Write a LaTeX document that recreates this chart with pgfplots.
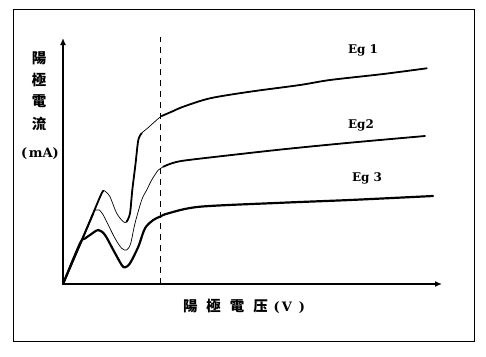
\documentclass[border=0pt]{standalone}
\usepackage{fontspec}
\setmainfont{DejaVu Serif}
\newfontfamily\cjk{Noto Sans CJK TC}
\usepackage{pgfplots}
\pgfplotsset{compat=1.18}
\usetikzlibrary{arrows.meta}

\begin{document}
\begin{tikzpicture}
\begin{axis}[
  x=1bp, y=1bp,
  xmin=0, xmax=379, ymin=0, ymax=246,
  enlargelimits=false,
  axis lines=left,
  axis line style={line width=1.5pt},
  x axis line style={-{Latex[length=7bp,width=6bp]}},
  y axis line style={-{Latex[length=7bp,width=6bp]}},
  xtick=\empty, ytick=\empty,
  clip=false,
]
% Eg1
\addplot[black, line width=0.7pt, smooth, tension=0.5, line cap=round, line join=round] coordinates {
(0,0)(20,46.5)(37,87)(40.3,93.3)(43,92)(47,87.3)(53.7,70.7)(60.3,62.3)(63.7,62.3)(67,70.7)(69.3,94)(72.5,120)(75.3,144)(78.7,150.7)(85.3,156.5)(92,162.5)(98.7,168)(108.7,172.3)(120.3,177.3)(147,185.7)(187,192.3)(237,199)(267,204)(320.3,210)(363.7,215.7)};
\addplot[black, line width=1.8pt, smooth, tension=0.5, line cap=round, line join=round] coordinates {
(0,0)(20,46.5)(37,87)(40.3,93.3)};
\addplot[black, line width=1.8pt, smooth, tension=0.5, line cap=round, line join=round] coordinates {
(63.7,62.3)(67,70.7)(69.3,94)(72.5,120)(75.3,144)(78.7,150.7)};
\addplot[black, line width=1.8pt, smooth, tension=0.5, line cap=round, line join=round] coordinates {
(98.7,168)(108.7,172.3)(120.3,177.3)(147,185.7)(187,192.3)(237,199)(267,204)(320.3,210)(363.7,215.7)};
% Eg2
\addplot[black, line width=0.7pt, smooth, tension=0.5, line cap=round, line join=round] coordinates {
(0,0)(15,35)(30.3,70.7)(33.5,74)(36.3,74)(40,69.5)(43.7,62.3)(52,45.7)(58.7,35.7)(63.7,34)(67.7,40.7)(72,60.7)(78.7,84)(83.7,94)(88.7,104)(95.3,114)(100.3,117.3)(108.7,120.7)(120.3,123.3)(153.7,127.3)(220,134.7)(287,141.3)(362,148)};
\addplot[black, line width=1.8pt, smooth, tension=0.5, line cap=round, line join=round] coordinates {
(0,0)(15,35)(30.3,70.7)};
\addplot[black, line width=1.8pt, smooth, tension=0.5, line cap=round, line join=round] coordinates {
(100.3,117.3)(108.7,120.7)(120.3,123.3)(153.7,127.3)(220,134.7)(287,141.3)(362,148)};
% Eg3
\addplot[black, line width=2.2pt, smooth, tension=0.5, line cap=round, line join=round] coordinates {
(0,0)(17,40.7)(22,45.5)(27,49)(35.3,54)(42,49)(50.3,34)(58.7,19)(62,16.7)(67,20.7)(75.3,37.3)(82,55.7)(90.3,64)(97,67.3)(105.3,70.7)(137,77.3)(220,81.3)(287,84)(370,88)};
% dashed line
\addplot[black, line width=0.8pt, dash pattern=on 6bp off 5bp] coordinates {(97,0)(97,247)};

% labels
\node[font=\cjk\bfseries\fontsize{14.5}{16}\selectfont] at (axis cs:-24,225.5) {陽};
\node[font=\cjk\bfseries\fontsize{14.5}{16}\selectfont] at (axis cs:-24,204) {極};
\node[font=\cjk\bfseries\fontsize{14.5}{16}\selectfont] at (axis cs:-24,182.5) {電};
\node[font=\cjk\bfseries\fontsize{14.5}{16}\selectfont] at (axis cs:-24,160) {流};
\node[font=\bfseries\fontsize{13}{15}\selectfont] at (axis cs:-23,130) {(\kern1.5pt mA)};
\node[font=\bfseries\fontsize{14.5}{16}\selectfont] at (axis cs:181,-22) {{\cjk 陽\hspace{9pt}極\hspace{9pt}電\hspace{9pt}压}\hspace{6pt}{\fontsize{13}{15}\selectfont(\kern2pt V\kern7pt)}};
\node[font=\bfseries\fontsize{12}{14}\selectfont] at (axis cs:300,234) {Eg 1};
\node[font=\bfseries\fontsize{12}{14}\selectfont] at (axis cs:298,159) {Eg2};
\node[font=\bfseries\fontsize{12}{14}\selectfont] at (axis cs:304,106) {Eg 3};

% frame and bounding box
\draw[line width=1pt] (axis cs:-50,-57) rectangle (axis cs:411,275);
\path (axis cs:-63,-72) rectangle (axis cs:423,284);
\end{axis}
\end{tikzpicture}
\end{document}
